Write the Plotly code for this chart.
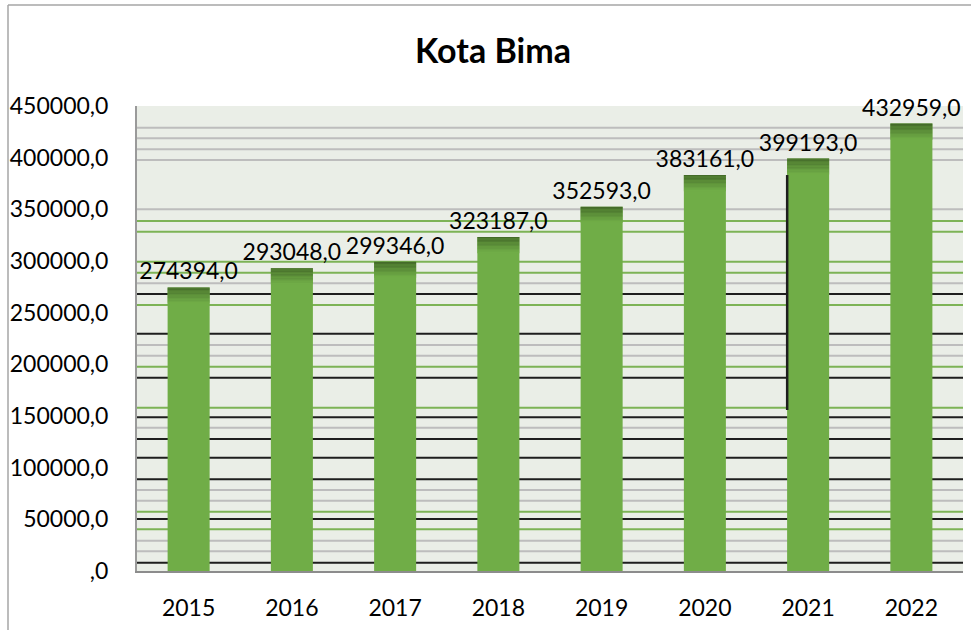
import plotly.graph_objects as go

# ---- data ----
years = ["2015", "2016", "2017", "2018", "2019", "2020", "2021", "2022"]
values = [274394.0, 293048.0, 299346.0, 323187.0, 352593.0, 383161.0, 399193.0, 432959.0]
labels = ["274394,0", "293048,0", "299346,0", "323187,0", "352593,0", "383161,0", "399193,0", "432959,0"]
y_tickvals = [0, 50000, 100000, 150000, 200000, 250000, 300000, 350000, 400000, 450000]
y_ticktext = [",0", "50000,0", "100000,0", "150000,0", "200000,0", "250000,0",
              "300000,0", "350000,0", "400000,0", "450000,0"]
title = "Kota Bima"

# decorative background lines (as in the source image)
grid_gray = [429000, 418700, 408100, 397700, 350000, 278400, 218700, 208300,
             138700, 78400, 68000, 29300, 19000]
grid_green = [338700, 328400, 299300, 288700, 257400, 197700, 158000, 57400, 40300]
grid_black = [268000, 229600, 187100, 148700, 127700, 109600, 88700, 50300, 8000]

W, H = 971, 630
ML, MR, MT, MB = 137, 8, 106, 59
PW, PH = W - ML - MR, H - MT - MB
FONT = "Lato, 'Open Sans', sans-serif"
BAR_GREEN = "#70AD47"

fig = go.Figure()
fig.add_trace(go.Bar(
    x=years, y=values, text=labels, textposition="outside",
    textfont=dict(family=FONT, size=23, color="#000000"),
    constraintext="none",
    marker=dict(color=BAR_GREEN, line=dict(width=0)),
    cliponaxis=False, hoverinfo="skip",
))

shapes = []
for v in grid_gray:
    shapes.append(dict(type="line", xref="paper", yref="y", x0=0, x1=1, y0=v, y1=v,
                       line=dict(color="#BDBDBD", width=2), layer="below"))
for v in grid_green:
    shapes.append(dict(type="line", xref="paper", yref="y", x0=0, x1=1, y0=v, y1=v,
                       line=dict(color="#7DB356", width=2), layer="below"))
for v in grid_black:
    shapes.append(dict(type="line", xref="paper", yref="y", x0=0, x1=1, y0=v, y1=v,
                       line=dict(color="#1E1E1E", width=2), layer="below"))

# darker gradient at bar tops (smooth blend from dark to bar green)
bw = 0.407
dark = (0x44, 0x6B, 0x29)
base = (0x70, 0xAD, 0x47)
nsteps = 12
step = 1300
for i, v in enumerate(values):
    for k in range(nsteps):
        t = k / (nsteps - 1)
        c = tuple(round(dark[j] + (base[j] - dark[j]) * t) for j in range(3))
        shapes.append(dict(type="rect", xref="x", yref="y",
                           x0=i - bw / 2, x1=i + bw / 2,
                           y0=v - step * (k + 1), y1=v - step * k,
                           fillcolor="#%02X%02X%02X" % c, line=dict(width=0), layer="above"))

# vertical black artefact line left of 2021 bar
shapes.append(dict(type="line", xref="x", yref="y", x0=5.797, x1=5.797,
                   y0=155800, y1=383200, line=dict(color="#1E1E1E", width=2.5), layer="above"))

# outer chart border (top and left)
px = lambda p: (p - ML) / PW
py = lambda p: (H - MB - p) / PH
shapes.append(dict(type="line", xref="paper", yref="paper", x0=px(8), x1=px(W + 5),
                   y0=py(5), y1=py(5), line=dict(color="#A6A6A6", width=1.5)))
shapes.append(dict(type="line", xref="paper", yref="paper", x0=px(8), x1=px(8),
                   y0=py(5), y1=py(H + 5), line=dict(color="#A6A6A6", width=1.5)))

fig.update_layout(
    width=W, height=H,
    margin=dict(l=ML, r=MR, t=MT, b=MB, autoexpand=False),
    paper_bgcolor="#FFFFFF", plot_bgcolor="#EAEEE7",
    showlegend=False,
    bargap=1 - bw,
    title=dict(text="<b>" + title + "</b>", x=493 / W, xanchor="center",
               y=1 - 51 / H, yanchor="middle",
               font=dict(family=FONT, size=34, color="#000000")),
    shapes=shapes,
    font=dict(family=FONT, size=23, color="#000000"),
)
fig.update_xaxes(showgrid=False, showline=True, linecolor="#8C8C8C", linewidth=2,
                 ticks="", ticklabelstandoff=15, automargin=False,
                 tickfont=dict(family=FONT, size=23))
fig.update_yaxes(range=[0, 450000], tickvals=y_tickvals, ticktext=y_ticktext,
                 showgrid=False, zeroline=False, showline=True, linecolor="#9A9A9A",
                 linewidth=2, ticks="", ticklabelstandoff=22, automargin=False,
                 tickfont=dict(family=FONT, size=23))

fig.write_html("out.html", config={"displayModeBar": False},
               post_script="document.body.style.margin='0';document.body.style.overflow='hidden';")
